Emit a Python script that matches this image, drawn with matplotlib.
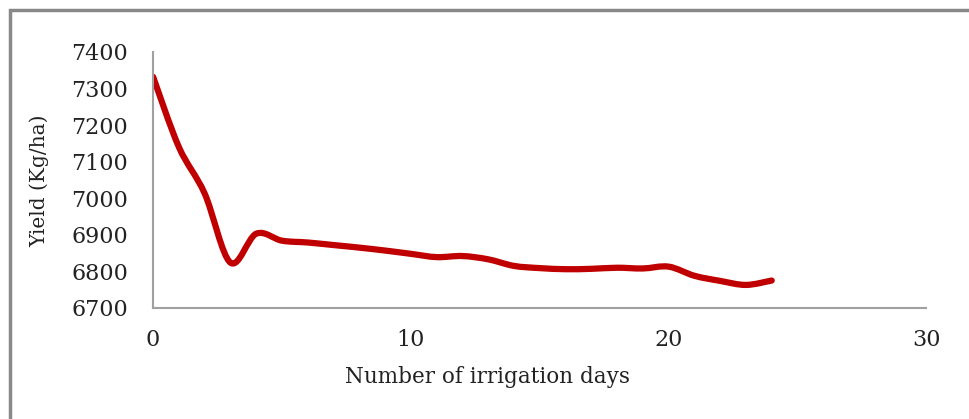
import matplotlib.pyplot as plt
from matplotlib.path import Path
from matplotlib.patches import PathPatch, Rectangle
import numpy as np

plt.rcParams['font.family'] = ['DejaVu Serif']

days = [0, 1, 2, 3, 4, 5, 6, 7, 8, 9, 10, 11, 12,
        13, 14, 15, 16, 17, 18, 19, 20, 21, 22, 23, 24]
yield_kg = [7332, 7140, 7013, 6824, 6903, 6884, 6879, 6872, 6865, 6857, 6848, 6839, 6842,
            6833, 6815, 6809, 6806, 6807, 6810, 6808, 6813, 6788, 6774, 6763, 6775]
x_ticks = [0, 10, 20, 30]
y_ticks = [6700, 6800, 6900, 7000, 7100, 7200, 7300, 7400]

fig = plt.figure(figsize=(9.69, 4.19), dpi=100)
ax = fig.add_axes([0.158, 0.265, 0.798, 0.611])

# excel style smoothed line: cubic bezier through the points
pts = np.column_stack([days, yield_kg]).astype(float)
n = len(pts)
verts = [pts[0]]
codes = [Path.MOVETO]
for i in range(n - 1):
    p0 = pts[i - 1] if i > 0 else pts[i]
    p1 = pts[i]
    p2 = pts[i + 1]
    p3 = pts[i + 2] if i + 2 < n else pts[i + 1]
    c1 = p1 + (p2 - p0) / 6
    c2 = p2 - (p3 - p1) / 6
    verts += [c1, c2, p2]
    codes += [Path.CURVE4] * 3
ax.add_patch(PathPatch(Path(verts, codes), facecolor='none', edgecolor='#C00000',
                       linewidth=4.5, capstyle='round', joinstyle='round'))

ax.set_xlim(0, 30)
ax.set_ylim(6700, 7400)
ax.set_xticks(x_ticks)
ax.set_yticks(y_ticks)
ax.tick_params(length=0, labelsize=16, colors='#222222')
ax.tick_params(axis='y', pad=18)
ax.tick_params(axis='x', pad=15)
for s in ['top', 'right']:
    ax.spines[s].set_visible(False)
for s in ['left', 'bottom']:
    ax.spines[s].set_color('#a0a0a0')
    ax.spines[s].set_linewidth(1.5)

ax.set_xlabel('Number of irrigation days', fontsize=15.5, color='#222222')
ax.xaxis.set_label_coords(0.433, -0.27)
ax.xaxis.label.set_va('center')
ax.set_ylabel('Yield (Kg/ha)', fontsize=14.5, color='#222222')
ax.yaxis.set_label_coords(-0.147, 0.496)
ax.yaxis.label.set_va('center')

# outer frame
fig.patches.append(Rectangle((10 / 969, -0.05), 1.1, 1 - 10 / 419 + 0.05,
                             transform=fig.transFigure, fill=False,
                             edgecolor='#888888', linewidth=2.5))

fig.savefig('out.png', dpi=100)
